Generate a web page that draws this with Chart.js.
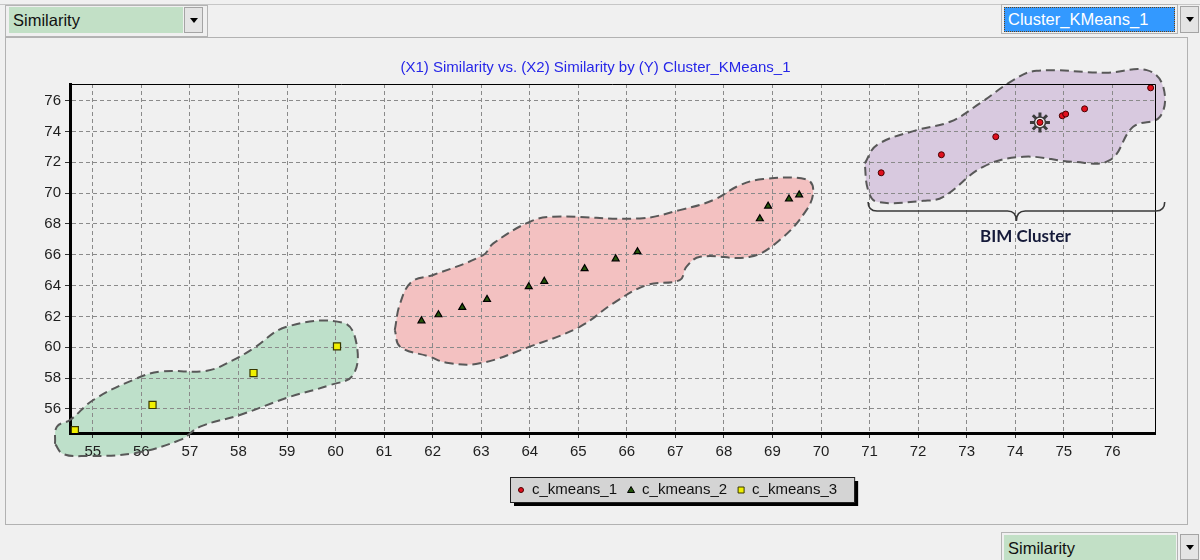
<!DOCTYPE html>
<html>
<head>
<title>Cluster_KMeans_1</title>
<script src="https://cdn.jsdelivr.net/npm/chart.js@4.4.1/dist/chart.umd.min.js"></script>
<style>
  body { margin: 0; background: #f0f0f0; font-family: "Liberation Sans", Arial, sans-serif; }
  #wrap { position: relative; width: 1200px; height: 560px; overflow: hidden; }
  .line { position: absolute; background: #c6c6c6; }
  .panel { position: absolute; left: 5px; top: 37px; width: 1183px; height: 488px; border: 1px solid #b2b2b2; box-sizing: border-box; }
  .frame { position: absolute; border: 1px solid #b4b4b4; box-sizing: border-box; }
  .combo { position: absolute; height: 26px; background: #c2e0c6; font-size: 16.5px; line-height: 26px; padding-left: 4px; color: #111; box-sizing: border-box; }
  .sel { background: #3399ff; color: #fff; outline: 1px dotted #6a4010; outline-offset: -1px; }
  .btn { position: absolute; width: 19px; height: 26px; border: 1px solid #a4a4a4; background: #e4e4e4; box-sizing: border-box; }
  .btn:after { content: ""; position: absolute; left: 5px; top: 10px; border-left: 4px solid transparent; border-right: 4px solid transparent; border-top: 5px solid #000; }
  canvas { position: absolute; left: 0; top: 0; }
</style>
</head>
<body>
<div id="wrap">
  <div class="line" style="left:0;top:4px;width:1200px;height:1px"></div>
  <div class="frame" style="left:5px;top:5px;width:203px;height:32px"></div>
  <div class="combo" style="left:9px;top:7px;width:174px">Similarity</div>
  <div class="btn" style="left:184px;top:7px"></div>

  <div class="frame" style="left:1001px;top:4px;width:177px;height:30px"></div>
  <div class="combo sel" style="left:1004px;top:7px;width:171px;height:25px;line-height:25px">Cluster_KMeans_1</div>
  <div class="btn" style="left:1180px;top:6px;height:27px"></div>

  <div class="panel"></div>

  <div class="frame" style="left:1001px;top:532px;width:177px;height:40px"></div>
  <div class="combo" style="left:1004px;top:535px;width:172px">Similarity</div>
  <div class="btn" style="left:1180px;top:534px"></div>

  <canvas id="myChart" width="1200" height="560"></canvas>
</div>
<script>
// cluster labels and title
const clusterNames = ['c_kmeans_1', 'c_kmeans_2', 'c_kmeans_3'];
const chartTitle = '(X1) Similarity vs. (X2) Similarity by (Y) Cluster_KMeans_1';
const noteText = 'BIM Cluster';

// axis ranges
const xMin = 54.53, xMax = 76.88;
const yMin = 54.44, yMax = 77.08;

// points per cluster
const k1X = [71.24, 72.48, 73.60, 74.51, 74.97, 75.04, 75.43, 76.79];
const k1Y = [71.32, 72.49, 73.66, 74.59, 75.02, 75.13, 75.47, 76.83];
const k2X = [61.77, 62.12, 62.61, 63.12, 63.98, 64.30, 65.13, 65.77, 66.22, 68.74, 68.91, 69.34, 69.55];
const k2Y = [61.72, 62.11, 62.59, 63.11, 63.93, 64.28, 65.10, 65.74, 66.20, 68.34, 69.16, 69.62, 69.89];
const k3X = [54.63, 56.23, 58.31, 60.03];
const k3Y = [54.63, 56.26, 58.33, 60.06];
const selectedIndex = 3; // highlighted point in cluster 1

// hand drawn outlines round each cluster
const hull3X = [54.22, 54.26, 54.53, 55.01, 55.83, 56.38, 57.35, 57.89, 58.31, 58.99, 60.16, 60.43, 60.36, 59.89, 59.06, 58.03, 57.21, 56.80, 55.83, 54.87, 54.39];
const hull3Y = [53.73, 54.85, 55.28, 56.58, 57.88, 58.42, 58.48, 59.17, 59.93, 61.33, 61.59, 60.26, 58.20, 57.55, 56.79, 55.61, 54.85, 53.99, 53.12, 52.95, 53.08];
const hull2X = [61.22, 61.33, 61.57, 62.01, 63.04, 63.25, 64.00, 64.48, 66.27, 67.09, 67.78, 68.33, 68.81, 69.70, 69.84, 69.70, 69.15, 68.54, 67.51, 67.23, 67.09, 66.41, 65.72, 65.03, 64.00, 62.97, 62.29, 61.94, 61.33];
const hull2Y = [61.12, 62.85, 64.25, 64.69, 65.98, 66.74, 68.14, 68.47, 68.36, 68.90, 69.55, 70.52, 70.91, 70.89, 70.20, 68.90, 66.96, 65.87, 65.87, 65.23, 64.36, 64.04, 62.85, 61.33, 60.04, 58.96, 59.00, 59.39, 60.04];
const hull1X = [70.90, 71.15, 71.97, 72.66, 73.27, 73.96, 74.44, 75.88, 76.71, 77.05, 76.98, 76.43, 75.95, 75.20, 74.17, 73.34, 72.52, 72.11, 71.15, 70.97];
const hull1Y = [71.93, 73.12, 74.09, 74.63, 75.82, 77.33, 77.94, 77.81, 77.98, 76.90, 74.95, 74.30, 72.14, 72.03, 72.36, 71.71, 69.76, 69.50, 69.44, 70.20];

const pts = (xs, ys) => xs.map((x, i) => ({x: x, y: ys[i]}));
const loop = (xs, ys) => { const p = pts(xs, ys); p.push(p[0]); return p; };

const ctx = document.getElementById('myChart');

const hullStyle = {
  type: 'line', fill: false, borderColor: '#585858', borderWidth: 2, borderDash: [9, 5],
  tension: 0.4, pointRadius: 0, clip: false, capBezierPoints: false
};

var datasets = [
  { label: clusterNames[0], data: pts(k1X, k1Y), pointStyle: 'circle', pointRadius: 3,
    backgroundColor: '#e0101e', borderColor: '#4a0000', borderWidth: 1 },
  { label: clusterNames[1], data: pts(k2X, k2Y), pointStyle: 'triangle', pointRadius: 4,
    backgroundColor: '#24560a', borderColor: '#000', borderWidth: 1.2 },
  { label: clusterNames[2], data: pts(k3X, k3Y), pointStyle: 'rect', pointRadius: 5,
    backgroundColor: '#f0f000', borderColor: '#383800', borderWidth: 1.2 },
  { label: 'ring', data: [{x: k1X[selectedIndex], y: k1Y[selectedIndex]}], pointStyle: 'circle', pointRadius: 5.5,
    backgroundColor: '#eeeeee', borderColor: '#3c3c3c', borderWidth: 1.5 },
  { label: 'star', data: [{x: k1X[selectedIndex], y: k1Y[selectedIndex]}], pointStyle: 'star', pointRadius: 10,
    borderColor: '#3c3c3c', borderWidth: 3 },
  Object.assign({ label: 'hull1', data: loop(hull1X, hull1Y), backgroundColor: 'rgb(216,201,223)' }, hullStyle),
  Object.assign({ label: 'hull2', data: loop(hull2X, hull2Y), backgroundColor: 'rgb(243,193,193)' }, hullStyle),
  Object.assign({ label: 'hull3', data: loop(hull3X, hull3Y), backgroundColor: 'rgb(190,224,202)' }, hullStyle)
];

// fill the outlines under the grid, without clipping to the plot area
const hullFill = {
  id: 'hullFill',
  beforeDraw(chart) {
    const c = chart.ctx;
    chart.data.datasets.forEach((ds, i) => {
      if (ds.type !== 'line') return;
      const line = chart.getDatasetMeta(i).dataset;
      line.updateControlPoints(chart.chartArea, 'x');
      c.save();
      c.beginPath();
      line.path(c);
      c.closePath();
      c.fillStyle = ds.backgroundColor;
      c.fill();
      c.restore();
    });
  }
};

// frame, brace note and the boxed legend
const decorations = {
  id: 'decorations',
  afterDraw(chart) {
    const c = chart.ctx, a = chart.chartArea, sx = chart.scales.x, sy = chart.scales.y;
    c.save();
    c.strokeStyle = '#000';
    c.lineWidth = 1;
    c.beginPath();
    c.moveTo(a.left, a.top + 0.5);
    c.lineTo(a.right + 0.5, a.top + 0.5);
    c.lineTo(a.right + 0.5, a.bottom);
    c.stroke();

    // curly brace under the top cluster
    const xl = sx.getPixelForValue(70.97), xr = sx.getPixelForValue(77.08);
    const xm = (xl + xr) / 2;
    const yEnd = sy.getPixelForValue(69.42), yLine = sy.getPixelForValue(68.84), yTip = sy.getPixelForValue(68.19);
    const r = yLine - yEnd;
    c.strokeStyle = '#383838';
    c.lineWidth = 1.6;
    c.beginPath();
    c.moveTo(xl, yEnd);
    c.quadraticCurveTo(xl, yLine, xl + r, yLine);
    c.lineTo(xm - r, yLine);
    c.quadraticCurveTo(xm, yLine, xm, yTip);
    c.quadraticCurveTo(xm, yLine, xm + r, yLine);
    c.lineTo(xr - r, yLine);
    c.quadraticCurveTo(xr, yLine, xr, yEnd);
    c.stroke();
    c.fillStyle = '#151a3a';
    c.font = 'bold 17px Lato, "Liberation Sans", sans-serif';
    c.textAlign = 'center';
    c.textBaseline = 'middle';
    c.fillText(noteText, xm + 9, sy.getPixelForValue(67.2));

    // legend
    c.font = '15px "Liberation Sans", Arial, sans-serif';
    const widths = clusterNames.map(n => c.measureText(n).width);
    const boxW = 11 + widths.reduce((s, w) => s + w + 11, 0) + 14 * 2 + 17;
    const boxH = 25, left = Math.round(682 - boxW / 2), top = 477;
    c.fillStyle = '#000';
    c.fillRect(left + 4, top + 4, boxW, boxH);
    c.fillStyle = '#d4d4d4';
    c.fillRect(left, top, boxW, boxH);
    c.strokeStyle = '#222';
    c.lineWidth = 1;
    c.strokeRect(left + 0.5, top + 0.5, boxW, boxH);
    const my = top + boxH / 2 + 0.5;
    let px = left + 11;
    clusterNames.forEach((n, i) => {
      const ds = chart.data.datasets[i];
      c.fillStyle = ds.backgroundColor;
      c.strokeStyle = ds.borderColor;
      c.lineWidth = 1;
      c.beginPath();
      if (i === 0) c.arc(px, my, 2.5, 0, Math.PI * 2);
      else if (i === 1) { c.moveTo(px, my - 3.5); c.lineTo(px + 3.5, my + 2.5); c.lineTo(px - 3.5, my + 2.5); c.closePath(); }
      else c.rect(px - 3, my - 3, 6, 6);
      c.fill();
      c.stroke();
      c.fillStyle = '#111';
      c.textAlign = 'left';
      c.fillText(n, px + 11, my);
      px = px + 11 + widths[i] + 14;
    });
    c.restore();
  }
};

var chart = new Chart(ctx, {
  type: 'scatter',
  data: { datasets: datasets },
  options: {
    responsive: false,
    animation: false,
    events: [],
    layout: { padding: { left: 36, right: 45, top: 59, bottom: 0 } },
    elements: { line: { capBezierPoints: false } },
    plugins: {
      legend: { display: false },
      tooltip: { enabled: false },
      title: {
        display: true, text: chartTitle, color: '#2626e8',
        font: { family: 'Liberation Sans', size: 15, weight: 'normal' },
        padding: { top: 0, bottom: 7 }
      }
    },
    scales: {
      x: {
        type: 'linear', min: xMin, max: xMax,
        afterFit: s => { s.height = 127; },
        ticks: { stepSize: 1, includeBounds: false, autoSkip: false, maxRotation: 0, padding: 5,
          color: '#1e1e1e', font: { family: 'Liberation Sans', size: 15 }, callback: v => Math.round(v) },
        grid: { color: '#8a8a8a', tickColor: '#333', tickLength: 5 },
        border: { color: '#000', width: 3, dash: [4, 3] }
      },
      y: {
        type: 'linear', min: yMin, max: yMax,
        afterFit: s => { s.width = 34; },
        ticks: { stepSize: 2, includeBounds: false, autoSkip: false, padding: 4,
          color: '#1e1e1e', font: { family: 'Liberation Sans', size: 15 }, callback: v => Math.round(v) },
        grid: { color: '#8a8a8a', tickColor: '#333', tickLength: 5 },
        border: { color: '#000', width: 3, dash: [4, 3] }
      }
    }
  },
  plugins: [hullFill, decorations]
});
</script>
</body>
</html>
